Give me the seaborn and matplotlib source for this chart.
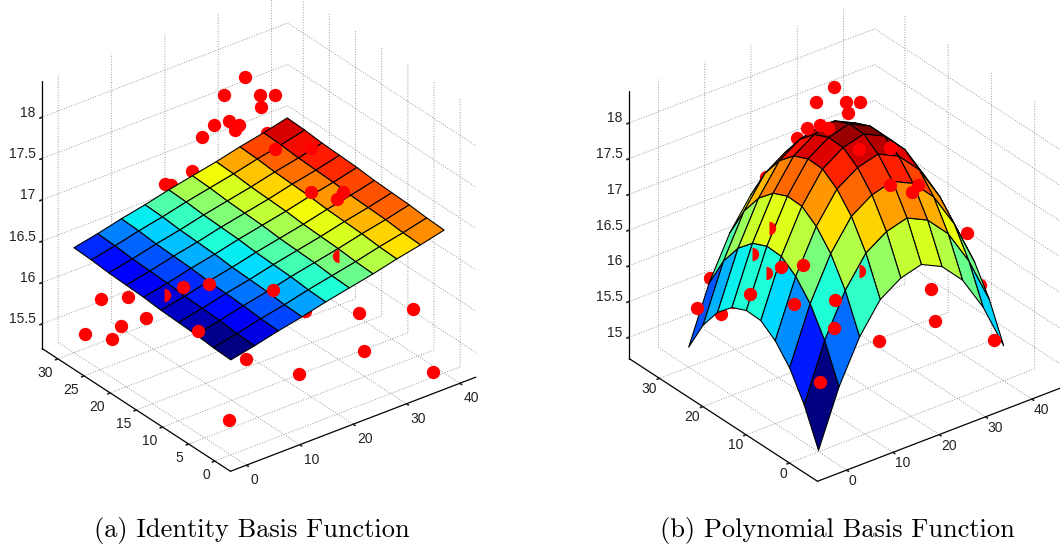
import numpy as np
import seaborn as sns
import matplotlib
matplotlib.use('Agg')
import matplotlib.pyplot as plt
from matplotlib.colors import Normalize

# grid of both fitted surfaces
x_grid = [0, 4.44, 8.89, 13.33, 17.78, 22.22, 26.67, 31.11, 35.56, 40]
y_grid = [0, 3.33, 6.67, 10, 13.33, 16.67, 20, 23.33, 26.67, 30]

z_identity = [
    [16.35, 16.41, 16.48, 16.54, 16.61, 16.67, 16.73, 16.80, 16.86, 16.93],
    [16.36, 16.42, 16.49, 16.55, 16.62, 16.68, 16.74, 16.81, 16.87, 16.94],
    [16.38, 16.44, 16.51, 16.57, 16.64, 16.70, 16.76, 16.83, 16.89, 16.96],
    [16.39, 16.45, 16.52, 16.58, 16.65, 16.71, 16.77, 16.84, 16.90, 16.97],
    [16.40, 16.46, 16.53, 16.59, 16.66, 16.72, 16.78, 16.85, 16.91, 16.98],
    [16.42, 16.48, 16.55, 16.61, 16.68, 16.74, 16.80, 16.87, 16.93, 17.00],
    [16.43, 16.49, 16.56, 16.62, 16.69, 16.75, 16.81, 16.88, 16.94, 17.01],
    [16.44, 16.50, 16.57, 16.63, 16.70, 16.76, 16.82, 16.89, 16.95, 17.02],
    [16.46, 16.52, 16.59, 16.65, 16.72, 16.78, 16.84, 16.91, 16.97, 17.04],
    [16.47, 16.53, 16.60, 16.66, 16.73, 16.79, 16.85, 16.92, 16.98, 17.05],
]

z_poly = [
    [14.72, 15.50, 16.09, 16.50, 16.69, 16.77, 16.63, 16.33, 15.84, 15.19],
    [15.23, 16.02, 16.61, 17.02, 17.21, 17.29, 17.15, 16.85, 16.36, 15.71],
    [15.61, 16.40, 16.99, 17.40, 17.59, 17.67, 17.53, 17.23, 16.74, 16.09],
    [15.86, 16.65, 17.24, 17.65, 17.84, 17.92, 17.78, 17.48, 16.99, 16.34],
    [16.01, 16.80, 17.39, 17.80, 17.99, 18.07, 17.93, 17.63, 17.14, 16.49],
    [16.02, 16.81, 17.40, 17.81, 18.00, 18.08, 17.94, 17.64, 17.15, 16.50],
    [15.93, 16.72, 17.31, 17.72, 17.91, 17.99, 17.85, 17.55, 17.06, 16.41],
    [15.73, 16.52, 17.11, 17.52, 17.71, 17.79, 17.65, 17.35, 16.86, 16.21],
    [15.42, 16.21, 16.80, 17.21, 17.40, 17.48, 17.34, 17.04, 16.55, 15.90],
    [14.98, 15.77, 16.36, 16.77, 16.96, 17.04, 16.90, 16.60, 16.11, 15.46],
]

# points in the left panel: hidden by the surface / in front of it / half cut
a_back_x = [22.31, 18.37, 22.19, 25.01, 21.40, 20.41, 21.14, 21.06, 21.47, 20.18, 28.40, 20.26, 17.16, 18.23,
            31.49, 10.81, 5.14, 8.19, 7.70, 4.91, 2.08, 2.30, 8.64, 16.69, 31.87, 38.04, 28.84, 38.42, 0.68, 23.64]
a_back_y = [20, 20, 17, 17, 16, 24, 22, 20, 21, 26, 22, 28, 30, 30,
            6, 28, 30, 28, 24, 26, 30, 25, 6, 4, 8, 4, 4, 0.5, 1, 10]
a_back_z = [18.39, 18.28, 18.30, 18.24, 18.22, 17.70, 17.81, 17.85, 17.73, 17.47, 17.48, 16.98, 16.82, 16.78,
            16.89, 16.03, 15.72, 15.75, 15.68, 15.57, 15.37, 15.52, 15.90, 15.60, 15.80, 15.86, 15.58, 15.23, 15.56, 15.94]
a_front_x = [25.85, 29.67, 26.73, 30.83, 29.65, 10.67, 13.65, 21.62, 5.65]
a_front_y = [18, 15, 12, 10, 10, 20, 18, 14, 12]
a_front_z = [17.52, 17.56, 17.23, 17.21, 17.15, 16.14, 16.19, 16.08, 16.07]
a_right_x = [8.99]
a_right_y = [22]
a_right_z = [16.01]
a_left_x = [25.18]
a_left_y = [5]
a_left_z = [16.78]

# points in the right panel
b_back_x = [21.94, 18.05, 21.88, 24.76, 21.23, 19.62, 16.74, 17.59, 32.50, 34.88, 9.81, 36.85, 3.68, 31.71,
            5.77, 3.18, 28.83, 16.87]
b_back_y = [20, 20, 17, 17, 16, 26, 30, 29, 6, 3, 28, 2, 29, 8, 26, 26, 4, 4]
b_back_z = [18.47, 18.36, 18.38, 18.31, 18.29, 17.58, 16.94, 16.91, 16.76, 16.78, 16.18, 16.04, 15.90, 15.87,
            15.63, 15.53, 15.65, 15.67]
b_front_x = [20.00, 20.79, 20.71, 25.55, 29.53, 26.58, 29.53, 30.83, 10.55, 13.52, 7.58, 1.81, 7.75, 12.88,
             10.88, 38.93, 1.21]
b_front_y = [24, 22, 20, 18, 15, 12, 10, 10, 20, 18, 24, 30, 14, 10, 8, 1, 1]
b_front_z = [17.79, 17.89, 17.93, 17.60, 17.62, 17.30, 17.21, 17.27, 16.23, 16.27, 15.77, 15.48, 16.02, 16.11,
             15.84, 15.26, 15.61]
b_right_x = [9.97, 9.88, 9.26, 21.74]
b_right_y = [22, 26, 22, 14]
b_right_z = [16.71, 16.19, 16.10, 16.14]

sns.set_theme(style='white', rc={
    'font.family': ['Liberation Sans', 'DejaVu Sans'],
    'font.size': 10,
    'xtick.labelsize': 10,
    'ytick.labelsize': 10,
    'axes.edgecolor': 'black',
    'axes.linewidth': 0.9,
    'xtick.color': '#222222',
    'ytick.color': '#222222',
    'grid.color': '#999999',
    'grid.linestyle': ':',
    'grid.linewidth': 0.7,
})
jet = matplotlib.colormaps['jet']
SIDE = 520


def panel(pos, lims, ticks, pad, z, vlim, back, front, right, left):
    ax = fig.add_axes([pos[0] / 1060, pos[1] / 544, SIDE / 1060, SIDE / 544],
                      projection='3d', proj_type='ortho', computed_zorder=False)
    ax.view_init(elev=30, azim=-127.5)
    ax.set_box_aspect((1, 1, 1))
    ax.patch.set_alpha(0)
    ax.set_xlim(*lims[0])
    ax.set_ylim(*lims[1])
    ax.set_zlim(*lims[2])
    ax.set_xticks(ticks[0])
    ax.set_yticks(ticks[1])
    ax.set_zticks(ticks[2])
    ax.set_xticklabels([f'{t:g}' for t in ticks[0]], ha='left')
    ax.set_yticklabels([f'{t:g}' for t in ticks[1]], ha='right')
    ax.set_zticklabels([f'{t:g}' for t in ticks[2]], ha='right', va='baseline')
    for axis in (ax.xaxis, ax.yaxis, ax.zaxis):
        axis.set_pane_color((1, 1, 1, 0))
        axis.pane.set_edgecolor('none')
        axis._axinfo['tick']['outward_factor'] = 0
        axis._axinfo['tick']['inward_factor'] = 0.12
    ax.zaxis.set_ticks_position('upper')
    ax.tick_params(axis='x', pad=pad)
    ax.tick_params(axis='y', pad=pad)
    ax.tick_params(axis='z', pad=-5)

    X, Y = np.meshgrid(x_grid, y_grid)
    Z = np.array(z)
    colors = jet(Normalize(*vlim)(Z))
    ax.scatter(*back, s=92, c='#ff0000', linewidths=0, depthshade=False, zorder=1)
    ax.plot_surface(X, Y, Z, facecolors=colors, rstride=1, cstride=1, shade=False,
                    edgecolor='black', linewidth=0.8, zorder=2)
    ax.scatter(*front, s=92, c='#ff0000', linewidths=0, depthshade=False, zorder=3)
    ax.plot(*right, ls='none', marker='o', ms=9.6, fillstyle='right', mfc='#ff0000',
            markerfacecoloralt='none', mew=0, zorder=3)
    if left is not None:
        ax.plot(*left, ls='none', marker='o', ms=9.6, fillstyle='left', mfc='#ff0000',
                markerfacecoloralt='none', mew=0, zorder=3)
    return ax


fig = plt.figure(figsize=(10.6, 5.44), dpi=100, facecolor='white')

panel((-8, 48),
      ((-3, 43), (-3, 33), (15.2, 18.44)),
      ([0, 10, 20, 30, 40], [0, 5, 10, 15, 20, 25, 30], [15.5, 16, 16.5, 17, 17.5, 18]), -4,
      z_identity, (16.35, 17.02),
      (a_back_x, a_back_y, a_back_z), (a_front_x, a_front_y, a_front_z),
      (a_right_x, a_right_y, a_right_z), (a_left_x, a_left_y, a_left_z))

panel((579, 38),
      ((-6.3, 46.7), (-6.5, 37), (14.7, 18.45)),
      ([0, 10, 20, 30, 40], [0, 10, 20, 30], [15, 15.5, 16, 16.5, 17, 17.5, 18]), -6,
      z_poly, (14.72, 18.08),
      (b_back_x, b_back_y, b_back_z), (b_front_x, b_front_y, b_front_z),
      (b_right_x, b_right_y, b_right_z), None)

fig.text(251.5 / 1060, 1 - 530 / 544, '(a) Identity Basis Function', family='cmr10', fontsize=19,
         ha='center', va='center', color='black')
fig.text(837.5 / 1060, 1 - 530 / 544, '(b) Polynomial Basis Function', family='cmr10', fontsize=19,
         ha='center', va='center', color='black')

fig.savefig('out.png', dpi=100)
